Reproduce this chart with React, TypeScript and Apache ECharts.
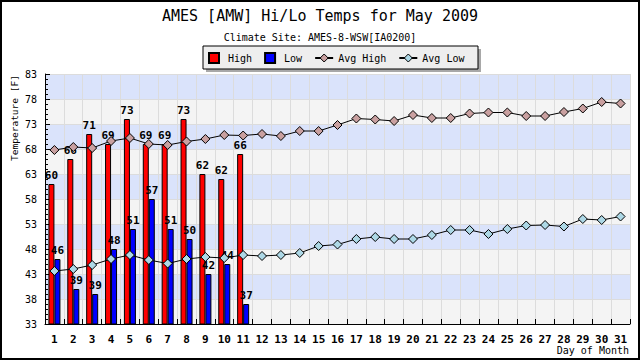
import React, { useEffect, useRef } from "react";
import * as echarts from "echarts";

const days = Array.from({ length: 31 }, (_, i) => String(i + 1));
const highs = [61, 66, 71, 69, 74, 69, 69, 74, 63, 62, 67, null, null, null, null, null, null, null, null, null, null, null, null, null, null, null, null, null, null, null, null];
const highLabels = ["60", "66", "71", "69", "73", "69", "69", "73", "62", "62", "66"];
const lows = [46, 40, 39, 48, 52, 58, 52, 50, 43, 45, 37, null, null, null, null, null, null, null, null, null, null, null, null, null, null, null, null, null, null, null, null];
const lowLabels = ["46", "39", "39", "48", "51", "57", "51", "50", "42", "44", "37"];
const avgHigh = [67.8, 68.4, 68.2, 69.6, 70.2, 69.0, 68.8, 69.5, 70.0, 70.8, 70.7, 71.0, 70.6, 71.6, 71.6, 72.8, 74.1, 73.9, 73.6, 74.8, 74.2, 74.2, 75.1, 75.3, 75.3, 74.6, 74.6, 75.4, 76.1, 77.4, 77.1];
const avgLow = [43.6, 44.0, 44.8, 46.0, 46.8, 45.8, 45.1, 46.0, 46.4, 46.2, 46.8, 46.6, 46.8, 47.2, 48.6, 48.9, 50.0, 50.4, 50.0, 50.0, 50.8, 51.8, 51.8, 51.0, 52.0, 52.7, 52.8, 52.5, 54.0, 53.8, 54.5];

const MONO = "'DejaVu Sans Mono', 'Liberation Mono', monospace";
const SQUARE = "path://M0,0H10V10H0Z";
const AVG_HIGH_COLOR = "#c9a0a0";
const AVG_LOW_COLOR = "#add8e6";

export default function App() {
  const ref = useRef<HTMLDivElement>(null);
  useEffect(() => {
    const chart = echarts.init(ref.current!, null, { renderer: "svg" });
    chart.setOption({
      animation: false,
      backgroundColor: "#ffffff",
      title: [
        {
          text: "AMES [AMW] Hi/Lo Temps for May 2009",
          left: "center",
          top: 3,
          textStyle: { fontFamily: MONO, fontSize: 15, fontWeight: "normal", color: "#000" },
        },
        {
          text: "Climate Site: AMES-8-WSW[IA0200]",
          left: "center",
          top: 27,
          textStyle: { fontFamily: MONO, fontSize: 10, fontWeight: "normal", color: "#000" },
        },
      ],
      graphic: [
        { type: "rect", z: -1, shape: { x: 1, y: 1, width: 638, height: 358 }, style: { fill: "none", stroke: "#000", lineWidth: 2 } },
        { type: "rect", z: 0, shape: { x: 206, y: 49, width: 275, height: 23 }, style: { fill: "#a8a8a8" } },
        { type: "rect", z: 0, shape: { x: 203, y: 46, width: 275, height: 23 }, style: { fill: "#eeeeee", stroke: "#000", lineWidth: 1 } },
        {
          type: "text",
          x: 14,
          y: 118,
          rotation: Math.PI / 2,
          style: { text: "Temperature [F]", fontFamily: MONO, fontSize: 9.5, fill: "#000", align: "center", verticalAlign: "middle" },
        },
        {
          type: "text",
          x: 629,
          y: 350,
          style: { text: "Day of Month", fontFamily: MONO, fontSize: 10, fill: "#000", align: "right", verticalAlign: "middle" },
        },
      ],
      legend: {
        left: 208,
        top: 52,
        padding: 0,
        itemWidth: 18,
        itemHeight: 10,
        itemGap: 12,
        z: 5,
        textStyle: { fontFamily: MONO, fontSize: 10, color: "#000" },
        data: [
          { name: "High", icon: SQUARE },
          { name: "Low", icon: SQUARE },
          { name: "Avg High", itemStyle: { color: AVG_HIGH_COLOR, borderColor: "#000", borderWidth: 1 } },
          { name: "Avg Low", itemStyle: { color: AVG_LOW_COLOR, borderColor: "#000", borderWidth: 1 } },
        ],
      },
      grid: { left: 45, right: 10, top: 74, bottom: 36, containLabel: false },
      xAxis: {
        type: "category",
        data: days,
        boundaryGap: true,
        axisLine: { show: true, lineStyle: { color: "#000", width: 1 } },
        axisTick: { show: true, inside: true, length: 5, interval: 0, lineStyle: { color: "#000" } },
        axisLabel: { interval: 0, margin: 10, fontFamily: MONO, fontSize: 11, fontWeight: "bold", color: "#000" },
        splitLine: { show: true, interval: 0, lineStyle: { color: "#dcdcdc", width: 1 } },
      },
      yAxis: {
        type: "value",
        min: 33,
        max: 83,
        interval: 5,
        axisLine: { show: true, lineStyle: { color: "#000", width: 1 } },
        axisTick: { show: true, inside: true, length: 5, lineStyle: { color: "#000" } },
        minorTick: { show: true, splitNumber: 5, length: 3, lineStyle: { color: "#000" } },
        axisLabel: { margin: 8, fontFamily: MONO, fontSize: 10, color: "#000" },
        splitLine: { show: true, lineStyle: { color: "#dcdcdc", width: 1 } },
        splitArea: { show: true, areaStyle: { color: ["#f4f4f4", "#dae3fb"] } },
      },
      series: [
        {
          name: "High",
          type: "bar",
          data: highs,
          barWidth: 6,
          barGap: "0%",
          z: 2,
          itemStyle: { color: "#ff0000", borderColor: "#000", borderWidth: 1 },
          label: {
            show: true,
            position: "top",
            distance: 3,
            fontFamily: MONO,
            fontSize: 11,
            fontWeight: "bold",
            color: "#000",
            formatter: (p: any) => highLabels[p.dataIndex] ?? "",
          },
        },
        {
          name: "Low",
          type: "bar",
          data: lows,
          barWidth: 6,
          barGap: "0%",
          z: 2,
          itemStyle: { color: "#0000ff", borderColor: "#000", borderWidth: 1 },
          label: {
            show: true,
            position: "top",
            distance: 3,
            fontFamily: MONO,
            fontSize: 11,
            fontWeight: "bold",
            color: "#000",
            formatter: (p: any) => lowLabels[p.dataIndex] ?? "",
          },
        },
        {
          name: "Avg High",
          type: "line",
          data: avgHigh,
          z: 4,
          symbol: "diamond",
          symbolSize: 9,
          lineStyle: { color: "#000", width: 1 },
          itemStyle: { color: AVG_HIGH_COLOR, borderColor: "#000", borderWidth: 1 },
        },
        {
          name: "Avg Low",
          type: "line",
          data: avgLow,
          z: 4,
          symbol: "diamond",
          symbolSize: 9,
          lineStyle: { color: "#000", width: 1 },
          itemStyle: { color: AVG_LOW_COLOR, borderColor: "#000", borderWidth: 1 },
        },
      ],
    });
    return () => chart.dispose();
  }, []);
  return <div ref={ref} style={{ position: "fixed", left: 0, top: 0, width: 640, height: 360 }} />;
}
